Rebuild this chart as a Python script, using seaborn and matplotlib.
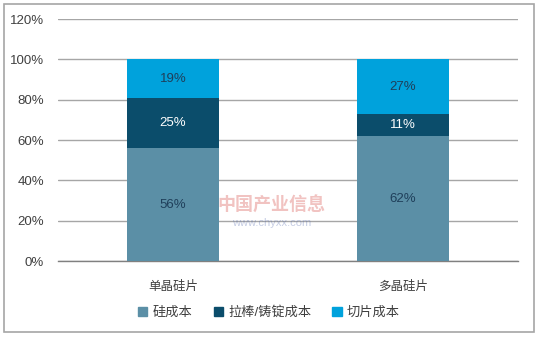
import matplotlib
matplotlib.use("Agg")
import matplotlib.pyplot as plt
import seaborn as sns
import numpy as np
import pandas as pd
from matplotlib.patches import Rectangle

categories = ["单晶硅片", "多晶硅片"]
series_names = ["硅成本", "拉棒/铸锭成本", "切片成本"]
silicon = [56, 62]
ingot = [25, 11]
cutting = [19, 27]
yticks = [0, 20, 40, 60, 80, 100, 120]

colors = ["#5b8fa6", "#0b4d6b", "#00a2dc"]
label_colors = ["#1f3f5a", "#ffffff", "#1f3f5a"]

sns.set_theme(style="white")
plt.rcParams['font.family'] = ['Liberation Sans', 'Noto Sans CJK SC', 'DejaVu Sans']

fig = plt.figure(figsize=(5.38, 3.40), dpi=100)
ax = fig.add_axes([0.108, 0.232, 0.855, 0.712])

series = [silicon, ingot, cutting]
cum = np.cumsum(np.array(series), axis=0)
for i in range(len(series) - 1, -1, -1):
    df = pd.DataFrame({"cat": categories, "val": cum[i]})
    sns.barplot(data=df, x="cat", y="val", color=colors[i], width=0.4,
                saturation=1, ax=ax, zorder=3, errorbar=None, linewidth=0,
                edgecolor=colors[i])

for i, s in enumerate(series):
    for j, v in enumerate(s):
        center = cum[i][j] - v / 2
        ax.text(j, center, f"{v}%", ha="center", va="center",
                fontsize=9.5, color=label_colors[i], zorder=5)

ax.set_ylim(0, 120)
ax.set_xlim(-0.5, 1.5)
ax.set_yticks(yticks)
ax.set_yticklabels([f"{t}%" for t in yticks], fontsize=9.5, color="#404040")
ax.tick_params(axis="x", labelsize=9, colors="#404040", pad=8)
ax.tick_params(axis="y", pad=10, length=0)
ax.set_xlabel("")
ax.set_ylabel("")
ax.yaxis.grid(True, color="#a6a6a6", linewidth=1, zorder=0)
ax.set_axisbelow(True)
for sp in ["left", "right", "top"]:
    ax.spines[sp].set_visible(False)
ax.spines["bottom"].set_color("#808080")
ax.spines["bottom"].set_linewidth(1)

# watermark
fig.text(0.505, 0.395, "中国产业信息", fontsize=13, color="#d9534f", alpha=0.35,
         ha="center", va="center", fontweight="bold")
fig.text(0.505, 0.345, "www.chyxx.com", fontsize=8, color="#5a6fb0", alpha=0.35,
         ha="center", va="center")

handles = [Rectangle((0, 0), 1, 1, color=c) for c in colors]
leg = fig.legend(handles, series_names, loc="center", bbox_to_anchor=(0.5, 0.08),
                 ncol=3, frameon=False, fontsize=9.5, handlelength=0.7,
                 handleheight=0.7, handletextpad=0.4, columnspacing=1.6)
for t in leg.get_texts():
    t.set_color("#404040")

fig.add_artist(Rectangle((0.008, 0.025), 0.985, 0.962, transform=fig.transFigure,
                         fill=False, edgecolor="#a6a6a6", linewidth=1.2))

fig.savefig("out.png", dpi=100)
